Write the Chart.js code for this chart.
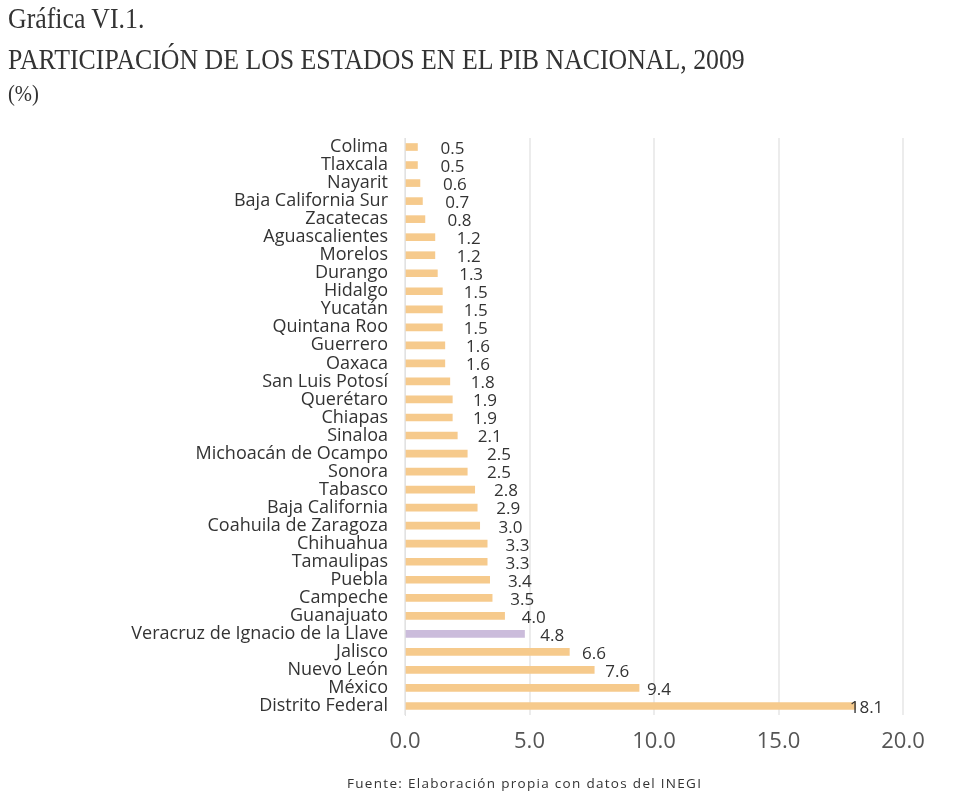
<!DOCTYPE html>
<html>
<head>
<meta charset="utf-8">
<script src="https://cdn.jsdelivr.net/npm/chart.js@4.4.0/dist/chart.umd.min.js"></script>
<style>
  html, body { margin: 0; padding: 0; background: #fff; }
  #wrap { position: relative; width: 956px; height: 793px; overflow: hidden; }
  #chart { position: absolute; left: 0; top: 0; }
  .title { position: absolute; left: 8px; font-family: "Liberation Serif", serif; color: #333;
           transform-origin: left top; white-space: nowrap; }
  #t1 { top: 1px; font-size: 30px; transform: scaleX(0.86); }
  #t2 { top: 42px; font-size: 30px; transform: scaleX(0.86); }
  #t3 { top: 80px; font-size: 24px; transform: scaleX(0.86); }
  #source { position: absolute; top: 774px; left: 347px; white-space: nowrap;
            font-family: "Open Sans", sans-serif; font-size: 13.5px; letter-spacing: 1.3px; color: #333; }
</style>
</head>
<body>
<div id="wrap">
  <canvas id="chart" width="956" height="793"></canvas>
  <div class="title" id="t1">Gráfica VI.1.</div>
  <div class="title" id="t2">PARTICIPACIÓN DE LOS ESTADOS EN EL PIB NACIONAL, 2009</div>
  <div class="title" id="t3">(%)</div>
  <div id="source">Fuente: Elaboración propia con datos del INEGI</div>
</div>
<script>
// Estados, de arriba hacia abajo
const states = [
    'Colima', 'Tlaxcala', 'Nayarit', 'Baja California Sur', 'Zacatecas',
    'Aguascalientes', 'Morelos', 'Durango', 'Hidalgo', 'Yucatán',
    'Quintana Roo', 'Guerrero', 'Oaxaca', 'San Luis Potosí', 'Querétaro',
    'Chiapas', 'Sinaloa', 'Michoacán de Ocampo', 'Sonora', 'Tabasco',
    'Baja California', 'Coahuila de Zaragoza', 'Chihuahua', 'Tamaulipas', 'Puebla',
    'Campeche', 'Guanajuato', 'Veracruz de Ignacio de la Llave', 'Jalisco', 'Nuevo León',
    'México', 'Distrito Federal'
];
const shares = [
    0.5, 0.5, 0.6, 0.7, 0.8,
    1.2, 1.2, 1.3, 1.5, 1.5,
    1.5, 1.6, 1.6, 1.8, 1.9,
    1.9, 2.1, 2.5, 2.5, 2.8,
    2.9, 3.0, 3.3, 3.3, 3.4,
    3.5, 4.0, 4.8, 6.6, 7.6,
    9.4, 18.1
];
const xTicks = [0, 5, 10, 15, 20];
const highlight = 'Veracruz de Ignacio de la Llave';

const barColors = states.map(s => s === highlight ? '#cbbcdb' : '#f6ca8c');

// value labels next to each bar
const valueLabels = {
    id: 'valueLabels',
    afterDatasetsDraw(chart) {
        const ctx = chart.ctx;
        const meta = chart.getDatasetMeta(0);
        ctx.save();
        ctx.font = '17px "Open Sans", sans-serif';
        ctx.fillStyle = '#333';
        ctx.textBaseline = 'middle';
        meta.data.forEach((bar, i) => {
            const v = shares[i];
            const offset = Math.max(-6, 24 - 1.7 * v);
            ctx.fillText(v.toFixed(1), bar.x + offset, bar.y + 2);
        });
        ctx.restore();
    }
};

new Chart(document.getElementById('chart'), {
    type: 'bar',
    data: {
        labels: states,
        datasets: [{
            data: shares,
            backgroundColor: barColors,
            borderWidth: 0,
            barThickness: 7
        }]
    },
    options: {
        indexAxis: 'y',
        responsive: false,
        animation: false,
        layout: { padding: { top: 138, bottom: 26, right: 53 } },
        plugins: {
            legend: { display: false },
            tooltip: { enabled: false }
        },
        scales: {
            x: {
                min: 0,
                max: 20,
                afterBuildTicks: (scale) => { scale.ticks = xTicks.map(v => ({ value: v })); },
                afterFit: (scale) => { scale.height = 52; },
                grid: { color: '#ececec', lineWidth: 2, drawTicks: false },
                border: { display: false },
                ticks: {
                    color: '#555',
                    font: { family: '"Open Sans", sans-serif', size: 22 },
                    padding: 14,
                    callback: v => v.toFixed(1)
                }
            },
            y: {
                afterFit: (scale) => { scale.width = 405; },
                grid: { display: false, drawTicks: true, tickLength: 5 },
                border: { display: true, color: '#e2e2e2', width: 1 },
                ticks: {
                    color: '#333',
                    font: { family: '"Open Sans", sans-serif', size: 18 },
                    padding: 12,
                    autoSkip: false
                }
            }
        }
    },
    plugins: [valueLabels]
});
</script>
</body>
</html>
